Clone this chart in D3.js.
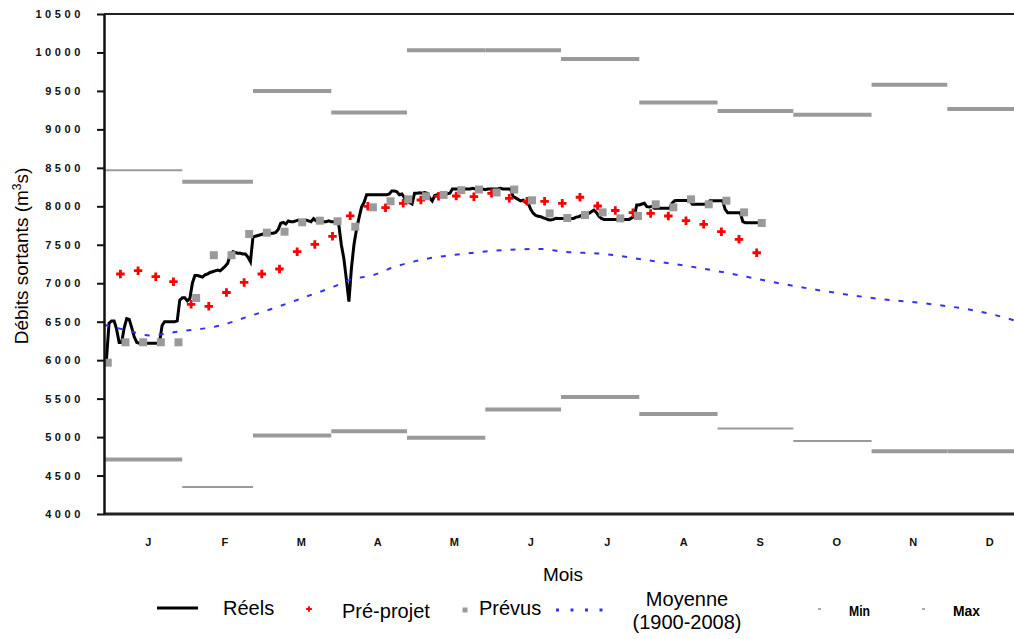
<!DOCTYPE html>
<html><head><meta charset="utf-8">
<script src="https://cdn.jsdelivr.net/npm/d3@7"></script>
<style>
body{margin:0;background:#fff;}
svg{display:block;font-family:"Liberation Sans",Arial,sans-serif;}
</style>
</head><body>
<svg id="c" width="1014" height="639"></svg>
<script>
// ---------- DATA ----------
const months = ["J","F","M","A","M","J","J","A","S","O","N","D"];
const monthStartDays = [0,31,59,90,120,151,181,212,243,273,304,334,365];
const yTicks = [4000,4500,5000,5500,6000,6500,7000,7500,8000,8500,9000,9500,10000,10500];

// Réels : daily values from day 0 (1 Jan)
const reels = [
 5990,6020,6480,6510,6510,6400,6230,6230,6420,6540,
 6530,6420,6300,6230,6220,6220,6220,6220,6220,6220,
 6220,6220,6230,6450,6500,6500,6500,6500,6500,6510,
 6780,6810,6810,6770,6800,7000,7100,7100,7090,7080,
 7110,7120,7140,7150,7160,7170,7160,7190,7220,7260,
 7380,7410,7400,7390,7390,7380,7380,7340,7280,7600,
 7610,7620,7630,7640,7640,7640,7650,7650,7660,7700,
 7780,7790,7770,7810,7800,7800,7810,7820,7800,7810,
 7820,7810,7800,7840,7810,7800,7810,7800,7800,7810,
 7800,7800,7790,7760,7500,7320,7050,6760,7200,7500,
 7700,7850,7990,8050,8150,8150,8150,8150,8150,8150,
 8150,8150,8150,8160,8200,8200,8190,8150,8160,8110,
 8080,8050,8030,8170,8170,8175,8170,8180,8170,8110,
 8070,8140,8150,8150,8160,8170,8165,8170,8225,8225,
 8225,8225,8215,8225,8225,8225,8235,8225,8225,8225,
 8225,8215,8225,8225,8225,8225,8225,8235,8225,8225,
 8225,8225,8130,8110,8090,8070,8080,8050,8040,7960,
 7910,7880,7870,7865,7850,7840,7825,7822,7830,7845,
 7843,7843,7843,7843,7843,7843,7843,7860,7865,7880,
 7887,7890,7908,7930,7950,7920,7870,7843,7830,7830,
 7830,7830,7830,7830,7830,7830,7830,7830,7830,7850,
 7870,8017,8017,8030,8039,7995,7990,8000,7974,7974,
 7974,7974,7974,7974,7974,8040,8073,8075,8075,8075,
 8075,8075,8075,8026,8026,8026,8026,8026,8026,8030,
 8073,8073,8073,8073,8073,8073,7960,7917,7917,7917,
 7917,7917,7917,7800,7787,7787,7787,7787,7787,7787
];

const preProjetDays = [6.5,13.5,20.5,27.5,34.5,41.5,48.5,55.5,62.5,69.5,76.5,83.5,90.5,97.5,104.5,111.5,118.5,125.5,132.5,139.5,146.5,153.5,160.5,167.5,174.5,181.5,188.5,195.5,202.5,209.5,216.5,223.5,230.5,237.5,244.5,251.5,258.5];
const preProjet = [7120,7163,7085,7020,6726,6700,6880,7011,7120,7185,7410,7505,7610,7876,8000,7982,8039,8082,8130,8134,8125,8169,8104,8065,8065,8039,8118,8004,7945,7917,7908,7874,7813,7766,7670,7571,7396];

const prevusDays = [1.5,8.5,15.5,22.5,29.5,36.5,43.5,50.5,57.5,64.5,71.5,78.5,85.5,92.5,99.5,106.5,113.5,120.5,127.5,134.5,141.5,148.5,155.5,162.5,169.5,176.5,183.5,190.5,197.5,204.5,211.5,218.5,225.5,232.5,239.5,246.5,253.5,260.5];
const prevus = [5967,6232,6232,6232,6232,6808,7364,7364,7640,7657,7670,7792,7813,7805,7735,7987,8065,8091,8130,8148,8210,8218,8180,8218,8078,7908,7848,7887,7921,7843,7874,8026,7987,8091,8026,8073,7921,7783];

const moyenneDays = [0,10,18,29,46,57,69,80,91,97,107,114,125,142,164,173,182,198,215,227,249,265,283,305,327,344,356,365];
const moyenne = [6460,6380,6320,6370,6450,6565,6695,6825,6955,7040,7110,7200,7300,7380,7440,7445,7410,7380,7300,7245,7120,7015,6910,6805,6730,6650,6560,6470];

const minMonthly = [4710,4350,5020,5075,4990,5360,5520,5300,5110,4950,4815,4815];
const maxMonthly = [8470,8320,9500,9220,10030,10030,9915,9350,9240,9190,9580,9265];

// ---------- STYLE ----------
const thinMin = [1,8,9];
const thinMax = [0];
const grey = "#9a9a9a";
const blue = "#3232f0";

// ---------- CHART ----------
const svg = d3.select("#c");
const L = 104, T = 14, B = 514, R = 1025.6;
const x = d3.scaleLinear().domain([0,365]).range([L,R]);
const y = d3.scaleLinear().domain([4000,10500]).range([B,T]);
const band = d3.scaleBand().domain(d3.range(12)).range([110,1028]);

svg.append("defs").append("clipPath").attr("id","clip")
  .append("rect").attr("x",L).attr("y",T-4).attr("width",R-L).attr("height",B-T+8);

const plot = svg.append("g").attr("clip-path","url(#clip)");

// Réels
plot.append("path")
  .datum(reels.map((v,i)=>[i,v]))
  .attr("fill","none").attr("stroke","#000").attr("stroke-width",3)
  .attr("stroke-linejoin","miter")
  .attr("d", d3.line().x(d=>x(d[0])).y(d=>y(d[1])));

// Pré-projet
plot.append("g").selectAll("path").data(preProjet).join("path")
  .attr("transform",(d,i)=>`translate(${x(preProjetDays[i])},${y(d)})`)
  .attr("d", d3.symbol(d3.symbolCross, 40))
  .attr("fill","#ff0000");

// Prévus
plot.append("g").selectAll("path").data(prevus).join("path")
  .attr("transform",(d,i)=>`translate(${x(prevusDays[i])},${y(d)})`)
  .attr("d", d3.symbol(d3.symbolSquare, 64))
  .attr("fill",grey);

// Moyenne
plot.append("path")
  .datum(moyenne.map((v,i)=>[moyenneDays[i],v]))
  .attr("fill","none").attr("stroke",blue).attr("stroke-width",2)
  .attr("stroke-dasharray","5,9")
  .attr("d", d3.line().curve(d3.curveMonotoneX).x(d=>x(d[0])).y(d=>y(d[1])));

// Min / Max
function bars(vals, thin){
  plot.append("g").selectAll("line").data(vals).join("line")
    .attr("x1",(d,i)=>x(monthStartDays[i]))
    .attr("x2",(d,i)=>x(monthStartDays[i+1]))
    .attr("y1",d=>y(d)).attr("y2",d=>y(d))
    .attr("stroke",grey)
    .attr("stroke-width",(d,i)=>thin.includes(i)?2:4);
}
bars(minMonthly, thinMin);
bars(maxMonthly, thinMax);

// Frame
svg.append("line").attr("x1",L).attr("x2",1014).attr("y1",T).attr("y2",T)
  .attr("stroke","#222").attr("stroke-width",2);
svg.append("line").attr("x1",L).attr("x2",1014).attr("y1",B).attr("y2",B)
  .attr("stroke","#222").attr("stroke-width",3);

// Y axis
const yAxis = svg.append("g").attr("transform",`translate(${L},0)`)
  .call(d3.axisLeft(y).tickValues(yTicks).tickSize(7).tickSizeOuter(0).tickPadding(13)
        .tickFormat(d3.format("d")));
yAxis.select(".domain").attr("stroke","#111").attr("stroke-width",2.5);
yAxis.selectAll(".tick line").attr("stroke","#111").attr("stroke-width",2);
yAxis.selectAll(".tick text").attr("fill","#111")
  .style("font-family","'Liberation Sans',Arial,sans-serif")
  .style("font-size","11px").style("font-weight","bold").style("letter-spacing","3.6px");

// X axis (month labels)
const xAxis = svg.append("g").attr("transform",`translate(0,${B})`)
  .call(d3.axisBottom(band).tickSize(0).tickPadding(24).tickFormat(i=>months[i]));
xAxis.select(".domain").remove();
xAxis.selectAll(".tick text").attr("fill","#111")
  .style("font-family","'Liberation Sans',Arial,sans-serif")
  .style("font-size","11px").style("font-weight","bold");

// Axis titles
svg.append("text").attr("x",563).attr("y",581).attr("text-anchor","middle")
  .style("font-size","19px").text("Mois");

const yt = svg.append("text").attr("transform","translate(28,256) rotate(-90)")
  .attr("text-anchor","middle").style("font-size","19px");
yt.append("tspan").text("Débits sortants (m");
yt.append("tspan").attr("dy",-7).style("font-size","12px").text("3");
yt.append("tspan").attr("dy",7).text("s)");

// Legend
const lg = svg.append("g");
lg.append("line").attr("x1",157).attr("x2",198).attr("y1",608).attr("y2",608)
  .attr("stroke","#000").attr("stroke-width",3);
lg.append("text").attr("x",223).attr("y",615).style("font-size","20px").text("Réels");
lg.append("path").attr("transform","translate(309,609)")
  .attr("d", d3.symbol(d3.symbolCross, 18)).attr("fill","#ff0000");
lg.append("text").attr("x",342).attr("y",618).style("font-size","20px").text("Pré-projet");
lg.append("path").attr("transform","translate(465,610)")
  .attr("d", d3.symbol(d3.symbolSquare, 25)).attr("fill",grey);
lg.append("text").attr("x",479).attr("y",615).style("font-size","20px").text("Prévus");
lg.append("line").attr("x1",556).attr("x2",603).attr("y1",610).attr("y2",610)
  .attr("stroke",blue).attr("stroke-width",3).attr("stroke-dasharray","3,11.5");
lg.append("text").attr("x",687).attr("y",606).attr("text-anchor","middle")
  .style("font-size","20px").text("Moyenne");
lg.append("text").attr("x",687).attr("y",629).attr("text-anchor","middle")
  .style("font-size","20px").text("(1900-2008)");
lg.append("rect").attr("x",818).attr("y",608).attr("width",3).attr("height",2).attr("fill","#aaa");
lg.append("text").attr("x",849).attr("y",616).attr("textLength",21).attr("lengthAdjust","spacingAndGlyphs")
  .style("font-size","14px").style("font-weight","bold").text("Min");
lg.append("rect").attr("x",922).attr("y",608).attr("width",3).attr("height",2).attr("fill","#aaa");
lg.append("text").attr("x",953).attr("y",616).attr("textLength",27).attr("lengthAdjust","spacingAndGlyphs")
  .style("font-size","14px").style("font-weight","bold").text("Max");
</script>
</body></html>
